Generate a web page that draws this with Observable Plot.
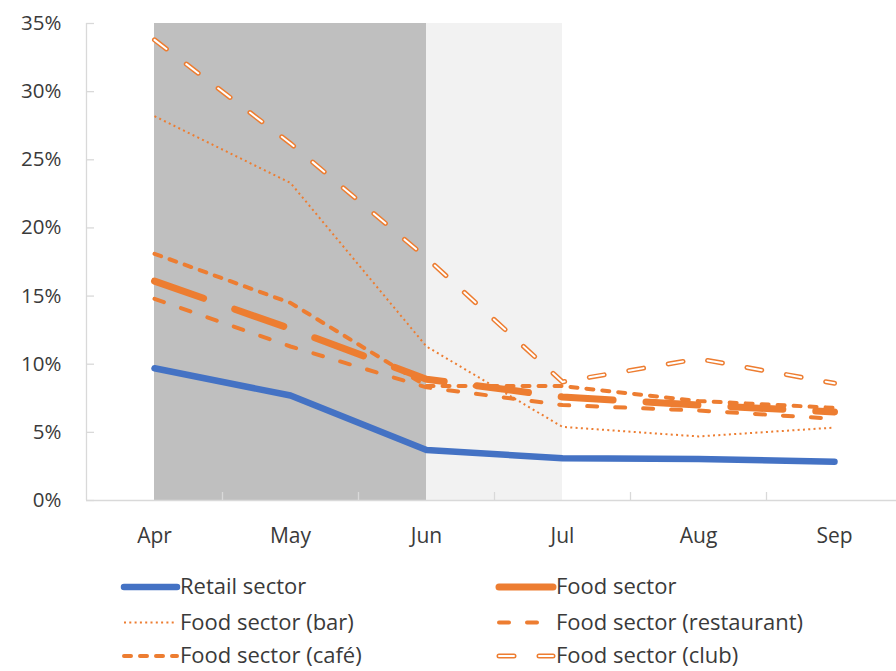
<!DOCTYPE html>
<html>
<head>
<meta charset="utf-8">
<script src="https://cdn.jsdelivr.net/npm/d3@7"></script>
<script src="https://cdn.jsdelivr.net/npm/@observablehq/plot@0.6"></script>
<style>
  html, body { margin: 0; padding: 0; background: #fff; }
  #wrap { position: relative; width: 896px; height: 671px; overflow: hidden; font-family: "Open Sans", sans-serif; }
  #legend { position: absolute; left: 0; top: 558px; }
</style>
</head>
<body>
<div id="wrap"><div id="chart"></div><div id="legend"></div></div>
<script>
const months = ["Apr", "May", "Jun", "Jul", "Aug", "Sep"];
const retail     = [0.097, 0.077, 0.037, 0.031, 0.0305, 0.0285];
const food       = [0.161, 0.126, 0.089, 0.076, 0.070, 0.065];
const foodBar    = [0.282, 0.233, 0.113, 0.054, 0.047, 0.0535];
const foodRest   = [0.148, 0.113, 0.083, 0.070, 0.066, 0.060];
const foodCafe   = [0.181, 0.145, 0.084, 0.084, 0.073, 0.068];
const foodClub   = [0.338, 0.262, 0.178, 0.087, 0.104, 0.086];
const seriesNames = ["Retail sector", "Food sector", "Food sector (bar)", "Food sector (restaurant)", "Food sector (café)", "Food sector (club)"];
const yTicks = [0, 0.05, 0.10, 0.15, 0.20, 0.25, 0.30, 0.35];
const lockdownBands = [
  {start: "Apr", end: "Jun", tone: "dark"},
  {start: "Jun", end: "Jul", tone: "light"}
];

const ORANGE = "#ED7D31", BLUE = "#4472C4", TEXT = "#3a3a3a";
const styles = {
  "Retail sector":            {stroke: BLUE,   strokeWidth: 6.5, dash: null},
  "Food sector":              {stroke: ORANGE, strokeWidth: 7,   dash: "52,33"},
  "Food sector (bar)":        {stroke: ORANGE, strokeWidth: 2,   dash: "2,3.3", cap: "butt"},
  "Food sector (restaurant)": {stroke: ORANGE, strokeWidth: 4,   dash: "10,18"},
  "Food sector (café)":       {stroke: ORANGE, strokeWidth: 4,   dash: "7,9"},
  "Food sector (club)":       {stroke: ORANGE, strokeWidth: 5,   dash: "15,25", hollow: true}
};
const allValues = [retail, food, foodBar, foodRest, foodCafe, foodClub];
const toRows = (vals, name) => vals.map((v, i) => ({i, v, name}));

const idx = m => months.indexOf(m);
const bandRows = lockdownBands.map(b => ({x1: idx(b.start), x2: idx(b.end), tone: b.tone}));

const lineMarks = [];
seriesNames.forEach((name, k) => {
  const s = styles[name];
  const rows = toRows(allValues[k], name);
  lineMarks.push(Plot.line(rows, {
    x: "i", y: "v", stroke: s.stroke, strokeWidth: s.strokeWidth,
    strokeDasharray: s.dash || undefined, strokeLinecap: s.cap || "round", strokeLinejoin: "round"
  }));
  if (s.hollow) {
    lineMarks.push(Plot.line(rows, {
      x: "i", y: "v", stroke: "#fff", strokeWidth: 2,
      strokeDasharray: s.dash, strokeLinecap: "round", strokeLinejoin: "round"
    }));
  }
});

const AXIS = "#d9d9d9";
const chart = Plot.plot({
  width: 896, height: 558,
  marginLeft: 86, marginRight: 0, marginTop: 23, marginBottom: 58,
  style: {fontFamily: "'Open Sans', sans-serif", fontSize: "20.5px", color: TEXT, background: "#fff"},
  x: {type: "linear", domain: [-0.5, 5.5], range: [86, 902], label: null},
  y: {domain: [0, 0.35], label: null},
  marks: [
    Plot.rect(bandRows, {x1: "x1", x2: "x2", y1: 0, y2: 0.35, fill: d => d.tone === "dark" ? "#BFBFBF" : "#F2F2F2"}),
    Plot.ruleX([-0.5], {y1: 0, y2: 0.35, stroke: AXIS, strokeWidth: 1.3}),
    Plot.ruleY(yTicks, {y: d => d, x1: -0.5, x2: -0.5 + 8 / 136, stroke: AXIS, strokeWidth: 1.3}),
    Plot.ruleY([0], {x1: -0.5, x2: 5.5, stroke: AXIS, strokeWidth: 1.3}),
    Plot.ruleX(d3.range(months.length - 1).map(i => i + 0.5), {x: d => d, y1: 0, y2: 0.35 * 8 / 477, stroke: AXIS, strokeWidth: 1.3}),
    Plot.axisY({ticks: yTicks, tickFormat: d => Math.round(d * 100) + "%", tickSize: 0, tickPadding: 25, fontSize: 20.5, fill: TEXT, label: null}),
    Plot.axisX({ticks: d3.range(months.length), tickFormat: i => months[i], tickSize: 0, tickPadding: 28, fontSize: 21, fill: TEXT, label: null}),
    ...lineMarks
  ]
});
document.getElementById("chart").appendChild(chart);

// Legend
const legendItems = [
  {name: seriesNames[0], col: 0, row: 0},
  {name: seriesNames[1], col: 1, row: 0},
  {name: seriesNames[2], col: 0, row: 1},
  {name: seriesNames[3], col: 1, row: 1},
  {name: seriesNames[4], col: 0, row: 2},
  {name: seriesNames[5], col: 1, row: 2}
];
const colX = [[124, 177, 180], [499, 553, 556]];
const rowY = [29, 64.5, 98];
const lg = d3.select("#legend").append("svg").attr("width", 896).attr("height", 113)
  .style("font-family", "'Open Sans', sans-serif").style("font-size", "22px");
legendItems.forEach(it => {
  const s = styles[it.name];
  const [xa, xb, xt] = colX[it.col];
  const y = rowY[it.row];
  const ln = lg.append("line").attr("x1", xa).attr("x2", xb).attr("y1", y).attr("y2", y)
    .attr("stroke", s.stroke).attr("stroke-width", s.strokeWidth)
    .attr("stroke-linecap", s.cap || "round");
  if (s.dash && it.name !== "Food sector") ln.attr("stroke-dasharray", s.dash);
  if (s.hollow) {
    lg.append("line").attr("x1", xa).attr("x2", xb).attr("y1", y).attr("y2", y)
      .attr("stroke", "#fff").attr("stroke-width", 2).attr("stroke-linecap", "round")
      .attr("stroke-dasharray", s.dash);
  }
  lg.append("text").attr("x", xt).attr("y", y).attr("dy", "0.32em").attr("fill", TEXT).text(it.name);
});
</script>
</body>
</html>
